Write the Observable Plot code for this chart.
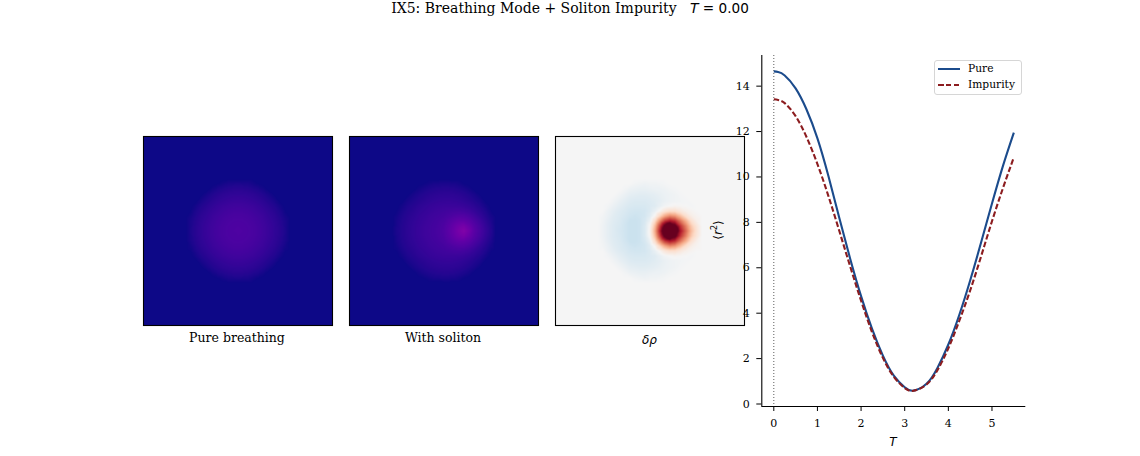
<!DOCTYPE html>
<html>
<head>
<meta charset="utf-8">
<script src="https://cdn.jsdelivr.net/npm/d3@7"></script>
<script src="https://cdn.jsdelivr.net/npm/@observablehq/plot@0.6"></script>
<style>
html,body{margin:0;padding:0;background:#fff}
#page{position:relative;width:1140px;height:456px;overflow:hidden;font-family:"DejaVu Serif",serif;color:#000}
#page>svg,#page>figure{position:absolute;margin:0}
.t{position:absolute;white-space:nowrap;line-height:1}
.m{font-family:"DejaVu Sans",sans-serif}
.mi{font-family:"DejaVu Sans",sans-serif;font-style:italic}
#legend{position:absolute;left:934px;top:60px;width:86px;height:33px;border:1px solid #d6d6d6;border-radius:3px;background:rgba(255,255,255,.8);font-size:10.7px}
#legend .s{position:absolute;left:3px;width:22px;height:2px}
#legend .l{position:absolute;left:33px;line-height:1}
</style>
</head>
<body>
<div id="page"></div>
<script>
// Shared sample grid of the three density images
const gridX = [-5.2,-4.7,-4.15,-3.6,-3,-2.5,-2,-1.5,-1,-0.5,0,0.5,1,1.5,2,2.5,3,3.6,4.15,4.7,5.2];
const gridY = [0,0.5,1,1.5,2,2.5,3,3.6,4.15,4.7,5.2];
const extent = 9.45;

// Pure density, one quadrant (plasma position x 1000)
const pureQuadrant = [
  [130,129,125,118,109,98,83,66,47,25,0],
  [129,127,124,117,108,96,82,65,46,23,0],
  [125,124,120,113,104,92,78,61,42,20,0],
  [118,117,113,107,97,86,71,55,35,13,0],
  [109,108,104,97,88,77,62,46,26,4,0],
  [98,96,92,86,77,65,51,34,14,0,0],
  [83,82,78,71,62,51,36,20,0,0,0],
  [66,65,61,55,46,34,20,3,0,0,0],
  [47,46,42,35,26,14,0,0,0,0,0],
  [25,23,20,13,4,0,0,0,0,0,0],
  [0,0,0,0,0,0,0,0,0,0,0]
];
// delta rho, upper half (percent of the colour range; the core saturates)
const deltaHalf = [
  [0,-4,-9,-13,-17,-20,-22,-22,-21,-14,4,38,80,128,165,132,85,57,31,13,0],
  [0,-4,-9,-13,-16,-20,-22,-22,-21,-14,2,32,70,108,132,108,75,50,26,11,0],
  [0,-3,-8,-12,-15,-19,-22,-22,-21,-16,-5,19,48,72,82,75,56,36,16,5,0],
  [0,-2,-6,-11,-14,-17,-20,-21,-20,-18,-11,2,22,39,48,44,32,16,6,2,0],
  [0,0,-5,-9,-13,-15,-18,-19,-19,-18,-14,-7,2,12,17,17,11,5,2,0,0],
  [0,0,-2,-6,-10,-13,-15,-16,-16,-16,-14,-12,-7,-2,0,2,1,0,-1,0,0],
  [0,0,0,-3,-7,-10,-13,-14,-14,-14,-13,-11,-9,-6,-4,-3,-2,-1,0,0,0],
  [0,0,0,0,-3,-6,-9,-10,-11,-11,-10,-9,-7,-5,-4,-3,-1,0,0,0,0],
  [0,0,0,0,0,-2,-5,-6,-7,-7,-6,-5,-5,-4,-2,-1,0,0,0,0,0],
  [0,0,0,0,0,0,0,-2,-3,-4,-3,-3,-2,-1,0,0,0,0,0,0,0],
  [0,0,0,0,0,0,0,0,0,0,0,0,0,0,0,0,0,0,0,0,0]
];
const solitonGain = 0.9; // with-soliton image = pure + gain x delta rho
const divergingStops = [-100,-80,-60,-40,-20,0,20,40,60,80,100];
const divergingColors = ["#053061","#2166ac","#4393c3","#92c5de","#d1e5f0","#f5f5f5","#fddbc7","#f4a582","#d6604d","#b2182b","#67001f"];

// Breathing curves
const timeT = [0,0.1,0.25,0.5,0.75,1,1.25,1.5,1.75,2,2.25,2.5,2.75,3,3.2,3.5,3.75,4,4.25,4.5,4.75,5,5.25,5.5];
const pureR2 = [14.65,14.62,14.47,13.9,12.97,11.7,10.05,8.2,6.4,4.75,3.32,2.13,1.25,0.74,0.59,0.89,1.59,2.62,3.92,5.44,7.11,8.83,10.48,11.95];
const impurityR2 = [13.42,13.39,13.25,12.68,11.76,10.57,9.17,7.63,6.06,4.55,3.17,2.03,1.2,0.7,0.58,0.86,1.49,2.45,3.66,5.0,6.5,8.05,9.5,10.86];
const xTicks = [0,1,2,3,4,5];
const yTicks = [0,2,4,6,8,10,12,14];
const pureColor = "#1b4b8c";
const impurityColor = "#8c1c1f";

const page = document.getElementById("page");

function field(valueAt) {
  const rows = [];
  gridY.forEach((gy, j) => {
    gridX.forEach((gx, i) => {
      const v = valueAt(i, j);
      rows.push({x: gx, y: gy, v});
      if (j > 0) rows.push({x: gx, y: -gy, v});
    });
  });
  for (const sx of [-1, 1]) for (const sy of [-1, 1]) rows.push({x: sx * extent, y: sy * extent, v: 0});
  return rows;
}
const pureAt = (i, j) => pureQuadrant[j][Math.abs(i - 10)];
const deltaAt = (i, j) => deltaHalf[j][i];

function panel(rows, color, left) {
  const svg = Plot.plot({
    width: 189, height: 189,
    marginTop: 0, marginRight: 0, marginBottom: 0, marginLeft: 0,
    style: {background: "transparent", overflow: "visible"},
    x: {axis: null, domain: [-extent, extent]},
    y: {axis: null, domain: [-extent, extent]},
    color,
    marks: [
      Plot.raster(rows, {x: "x", y: "y", fill: "v", interpolate: "barycentric", x1: -extent, x2: extent, y1: -extent, y2: extent, pixelSize: 1}),
      Plot.frame({stroke: "black", strokeWidth: 1.1})
    ]
  });
  svg.style.left = left + "px";
  svg.style.top = "136px";
  page.appendChild(svg);
}
const plasma = {type: "linear", scheme: "plasma", domain: [0, 1000], clamp: true};
panel(field(pureAt), plasma, 143);
panel(field((i, j) => pureAt(i, j) + solitonGain * deltaAt(i, j)), plasma, 349);
panel(field(deltaAt), {type: "linear", domain: divergingStops, range: divergingColors, clamp: true}, 555);

const curve = timeT.flatMap((t, i) => [
  {t, r: pureR2[i], s: "Pure"},
  {t, r: impurityR2[i], s: "Impurity"}
]);
const xDom = [-0.275, 5.775], yDom = [-0.11, 15.35];
const line = Plot.plot({
  width: 340, height: 410,
  marginLeft: 61.3, marginRight: 14.7, marginTop: 15, marginBottom: 44,
  style: {background: "transparent", fontFamily: "'DejaVu Serif',serif", fontSize: "11px", color: "#000", overflow: "visible"},
  x: {domain: xDom, axis: null},
  y: {domain: yDom, axis: null},
  marks: [
    Plot.axisX(xTicks, {tickSize: 5, tickPadding: 8, label: null, fontSize: 11, tickFormat: d => String(d)}),
    Plot.axisY(yTicks, {tickSize: 5, tickPadding: 7, label: null, fontSize: 11, tickFormat: d => String(d)}),
    Plot.ruleX([0], {stroke: "#333", strokeWidth: 0.8, strokeDasharray: "1,2"}),
    Plot.line(curve.filter(d => d.s === "Pure"), {x: "t", y: "r", stroke: pureColor, strokeWidth: 2.1, curve: "natural", strokeLinecap: "butt"}),
    Plot.line(curve.filter(d => d.s === "Impurity"), {x: "t", y: "r", stroke: impurityColor, strokeWidth: 2.1, strokeDasharray: "5.5,2.4", curve: "natural", strokeLinecap: "butt"}),
    Plot.ruleX([xDom[0]], {stroke: "black", strokeWidth: 1.1}),
    Plot.ruleY([yDom[0]], {stroke: "black", strokeWidth: 1.1})
  ]
});
line.style.left = "700px";
line.style.top = "40px";
page.appendChild(line);

function label(html, x, y, size, extra) {
  const d = document.createElement("div");
  d.className = "t";
  d.innerHTML = html;
  d.style.left = x + "px";
  d.style.top = y + "px";
  d.style.fontSize = size + "px";
  d.style.transform = "translate(-50%,-50%)" + (extra || "");
  page.appendChild(d);
}
label('IX5: Breathing Mode + Soliton Impurity &nbsp; <span class="mi">T</span><span class="m" style="font-size:13.6px"> = 0.00</span>', 570, 8, 14);
label("Pure breathing", 237, 338, 12.5);
label("With soliton", 443, 338, 12.5);
label('<span class="mi">δρ</span>', 649.5, 340, 12);
label('<span class="mi">T</span>', 893, 442, 12);
label('<span class="m">⟨</span><span class="mi">r</span><sup class="m" style="font-size:8px">2</sup><span class="m">⟩</span>', 717, 230, 12, " rotate(-90deg)");

const legend = document.createElement("div");
legend.id = "legend";
legend.innerHTML =
  `<div class="s" style="top:7px;background:${pureColor}"></div><div class="l" style="top:3px">Pure</div>` +
  `<div class="s" style="top:22.5px;background:repeating-linear-gradient(90deg,${impurityColor} 0 5.5px,transparent 5.5px 7.9px)"></div><div class="l" style="top:19px">Impurity</div>`;
page.appendChild(legend);
</script>
</body>
</html>
